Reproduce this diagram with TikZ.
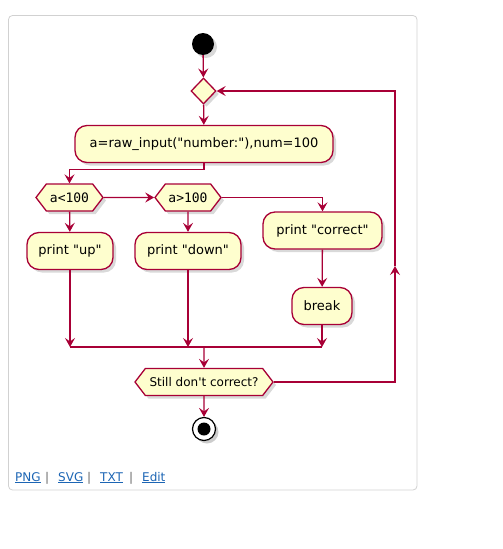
\documentclass[tikz,border=0pt]{standalone}
\usepackage{fontspec}
\setmainfont{DejaVu Sans}
\setmonofont{DejaVu Sans Mono}
\usetikzlibrary{arrows.meta,shapes.geometric,shapes.symbols,shadows,positioning}
\definecolor{umlred}{HTML}{A80036}
\definecolor{umlfill}{HTML}{FEFECE}
\definecolor{linkblue}{HTML}{1C65B4}
\newcommand{\dq}{\textquotedbl}
\tikzset{activity/.style={
                          % The shape:
                          rectangle,rounded corners=12pt,minimum height=37pt,inner xsep=10pt,
                          % The rest
                          draw=umlred,line width=1.3pt,fill=umlfill,
                          drop shadow={opacity=.3,shadow xshift=3pt,shadow yshift=-3pt},
                          font=\fontsize{13}{15}\selectfont,
                          },
         decision/.style={
                          % The shape:
                          signal,signal to=west and east,signal pointer angle=105,
                          minimum height=27pt,inner sep=0pt,
                          % The rest
                          draw=umlred,line width=1.3pt,fill=umlfill,
                          drop shadow={opacity=.3,shadow xshift=3pt,shadow yshift=-3pt},
                          },
         flow/.style={draw=umlred,line width=1.3pt,
                          -{Stealth[length=9pt,width=10pt,inset=3.5pt]}},
         weblink/.style={text=linkblue,font=\fontsize{12}{14}\selectfont,inner sep=0pt},
         }

\begin{document}
\begin{tikzpicture}[x=1pt,y=-1pt]
  \useasboundingbox (0,0) rectangle (503,549);
  % Frame round the diagram
  \draw[black!18,line width=.8pt,rounded corners=4pt] (8.5,15.5) rectangle (417,490);

  % Start, loop and first action
  \node (start) [circle,fill=black,minimum size=22pt,inner sep=0pt,
                 drop shadow={opacity=.3,shadow xshift=3pt,shadow yshift=-3pt}] at (203,44) {};
  \node (loop) [diamond,draw=umlred,line width=1.3pt,fill=umlfill,inner sep=0pt,
                minimum width=25pt,minimum height=26pt,
                drop shadow={opacity=.3,shadow xshift=3pt,shadow yshift=-3pt}] at (203.5,91) {};
  \node (input) [activity,minimum width=258pt] at (204,144) {a=raw\_input(\dq number:\dq),num=100};

  % Tests and their actions
  \node (lt) [decision,minimum width=67pt,font=\ttfamily\fontsize{13}{15}\selectfont] at (69.5,197.5) {a<100};
  \node (gt) [decision,minimum width=66pt,font=\ttfamily\fontsize{13}{15}\selectfont] at (188,197.5) {a>100};
  \node (up) [activity,minimum width=86pt] at (70,251) {print \dq up\dq};
  \node (down) [activity,minimum width=106pt] at (188,251) {print \dq down\dq};
  \node (correct) [activity,minimum width=119pt] at (322.5,230.5) {print \dq correct\dq};
  \node (brk) [activity,minimum width=60pt] at (322,306) {break};

  % Repeat test and stop
  \node (still) [decision,minimum width=138pt,font=\fontsize{12}{14}\selectfont] at (204,382) {Still don\textquotesingle t correct?};
  \node (stop) [circle,draw=black,line width=1.2pt,fill=white,minimum size=23pt,inner sep=0pt,
                drop shadow={opacity=.4,shadow xshift=3pt,shadow yshift=-3pt}] at (204,429) {};
  \node (stopdot) [circle,fill=black,minimum size=13pt,inner sep=0pt] at (stop) {};

  % Join points
  \coordinate (joinup) at (70,347);
  \coordinate (joindown) at (188,347);
  \coordinate (joinbrk) at (322,347);
  \coordinate (joinmid) at (204,347);
  \coordinate (loopup) at (395,266);

  % Connectors
  \draw[flow] (start) -- (loop);
  \draw[flow] (loop) -- (input);
  \draw[flow] (input.south) -- ++(0,6) -| (lt.north);
  \draw[flow] (lt) -- (gt);
  \draw[flow] (gt.east) -| (correct.north);
  \draw[flow] (lt) -- (up);
  \draw[flow] (gt) -- (down);
  \draw[flow] (correct) -- (brk);
  \draw[flow] (up) -- (joinup);
  \draw[flow] (down) -- (joindown);
  \draw[flow] (brk) -- (joinbrk);
  \draw[draw=umlred,line width=1.3pt] (joinup) -- (joinbrk);
  \draw[flow] (joinmid) -- (still);
  \draw[flow] (still) -- (stop);
  \draw[flow] (still.east) -| (loopup);
  \draw[flow] (loopup) |- (loop.east);

  % Links under the diagram
  \node (png) [weblink,anchor=base west] at (15,481) {\underline{PNG}};
  \node (bar1) [anchor=base west,inner sep=0pt,text=black!60,font=\fontsize{12}{14}\selectfont] at (45,481) {|};
  \node (svg) [weblink,anchor=base west] at (58,481) {\underline{SVG}};
  \node (bar2) [anchor=base west,inner sep=0pt,text=black!60,font=\fontsize{12}{14}\selectfont] at (87,481) {|};
  \node (txt) [weblink,anchor=base west] at (100,481) {\underline{TXT}};
  \node (bar3) [anchor=base west,inner sep=0pt,text=black!60,font=\fontsize{12}{14}\selectfont] at (129,481) {|};
  \node (edit) [weblink,anchor=base west] at (142,481) {\underline{Edit}};
\end{tikzpicture}
\end{document}
